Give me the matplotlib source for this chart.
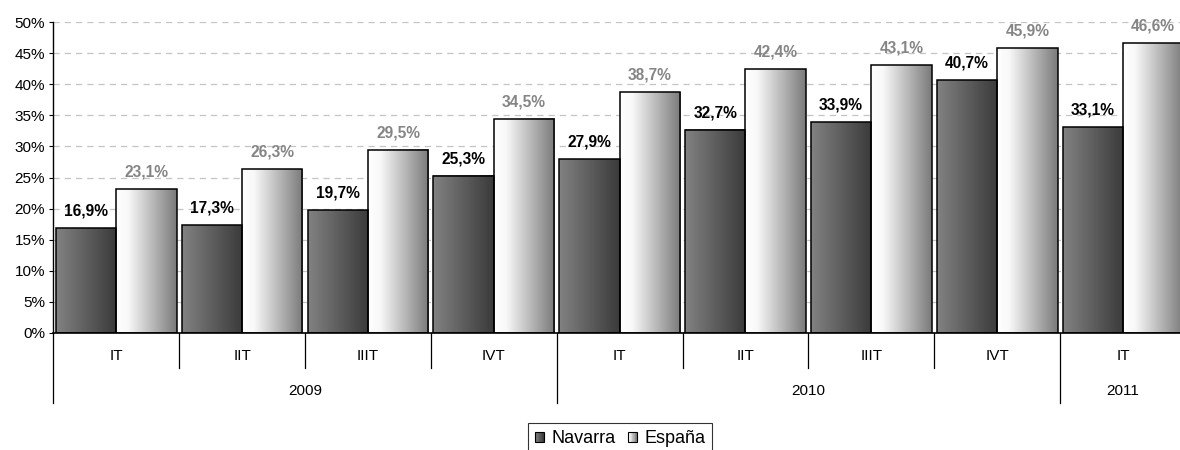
import matplotlib
matplotlib.use('Agg')
import matplotlib.pyplot as plt
import numpy as np
from matplotlib.colors import LinearSegmentedColormap
from matplotlib.patches import Rectangle
from matplotlib.legend_handler import HandlerBase

quarters = ['IT', 'IIT', 'IIIT', 'IVT', 'IT', 'IIT', 'IIIT', 'IVT', 'IT']
years = ['2009', '2009', '2009', '2009', '2010', '2010', '2010', '2010', '2011']
navarra = [16.9, 17.3, 19.7, 25.3, 27.9, 32.7, 33.9, 40.7, 33.1]
espana = [23.1, 26.3, 29.5, 34.5, 38.7, 42.4, 43.1, 45.9, 46.6]
series_names = ['Navarra', 'España']
yticks = [0, 5, 10, 15, 20, 25, 30, 35, 40, 45, 50]

plt.rcParams['font.family'] = ['Liberation Sans', 'DejaVu Sans']
fig = plt.figure(figsize=(11.8, 4.5), dpi=100)
ax = fig.add_axes([53.3 / 1180, 117.3 / 450, 9 * 125.85 / 1180, 310.4 / 450])

cmap_nav = LinearSegmentedColormap.from_list('nav', ['#828282', '#5e5e5e', '#3a3a3a'])
cmap_esp = LinearSegmentedColormap.from_list('esp', [(0, '#ffffff'), (0.2, '#f8f8f8'), (1, '#7a7a7a')])
grad = np.linspace(0, 1, 256).reshape(1, -1)

x = np.arange(len(quarters))
w = 0.48
bars_n = ax.bar(x - w, navarra, w, align='edge', facecolor='none', edgecolor='black', lw=1.1, zorder=3)
bars_e = ax.bar(x, espana, w, align='edge', facecolor='none', edgecolor='black', lw=1.1, zorder=3)

for bars, cmap, vals, col in [(bars_n, cmap_nav, navarra, 'black'), (bars_e, cmap_esp, espana, '#858585')]:
    for r, v in zip(bars, vals):
        ax.imshow(grad, cmap=cmap, extent=[r.get_x(), r.get_x() + r.get_width(), 0, r.get_height()],
                  aspect='auto', zorder=2, interpolation='bilinear')
        ax.annotate(f'{v:.1f}'.replace('.', ',') + '%',
                    xy=(r.get_x() + r.get_width() / 2, r.get_height()),
                    xytext=(0, 9), textcoords='offset points', ha='center', va='baseline',
                    fontsize=11.2, fontweight='bold', color=col, zorder=4)

ax.set_xlim(-0.5, len(quarters) - 0.5)
ax.set_ylim(0, 50)
ax.set_yticks(yticks)
ax.set_yticklabels([f'{t}%' for t in yticks], fontsize=11)
ax.set_xticks([])
ax.yaxis.grid(True, color='#c4c4c4', linestyle=(0, (5, 4)), lw=0.9)
ax.set_axisbelow(True)
for s in ['top', 'right']:
    ax.spines[s].set_visible(False)
ax.spines['left'].set_color('black')
ax.spines['bottom'].set_color('black')
ax.spines['left'].set_linewidth(1.0)
ax.spines['bottom'].set_linewidth(1.2)
ax.tick_params(axis='y', length=3, width=0.8, direction='out', pad=3, colors='black')

# category axis
trans = ax.get_xaxis_transform()
q_len = 35.5 / 310.4
y_len = 70.6 / 310.4
for i in range(len(quarters)):
    ax.text(i, -23.3 / 310.4, quarters[i], transform=trans, ha='center', va='center', fontsize=11)
for i in range(len(quarters)):
    bnd = i - 0.5
    is_year = (i == 0) or (years[i] != years[i - 1])
    ax.plot([bnd, bnd], [0, -(y_len if is_year else q_len)], transform=trans,
            color='black', lw=0.9, clip_on=False)
uniq = []
for yv in years:
    if yv not in uniq:
        uniq.append(yv)
for yv in uniq:
    idx = [i for i, v in enumerate(years) if v == yv]
    c = (idx[0] - 0.5 + idx[-1] + 0.5) / 2
    ax.text(c, -58.5 / 310.4, yv, transform=trans, ha='center', va='center', fontsize=11)


class GradHandler(HandlerBase):
    def __init__(self, cmap):
        super().__init__()
        self.cmap = cmap

    def create_artists(self, legend, orig_handle, xdescent, ydescent, width, height, fontsize, trans):
        n = 12
        arts = []
        for k in range(n):
            arts.append(Rectangle((-xdescent + k * width / n, -ydescent), width / n, height,
                                  facecolor=self.cmap((k + 0.5) / n), edgecolor='none', transform=trans))
        arts.append(Rectangle((-xdescent, -ydescent), width, height, facecolor='none',
                              edgecolor='black', lw=0.8, transform=trans))
        return arts


h1 = Rectangle((0, 0), 1, 1)
h2 = Rectangle((0, 0), 1, 1)
leg = fig.legend([h1, h2], series_names, loc='upper center', bbox_to_anchor=(620 / 1180, 1 - 423 / 450),
                 ncol=2, frameon=True, fancybox=False, edgecolor='black', fontsize=13,
                 handlelength=0.5, handleheight=0.5, handletextpad=0.4, columnspacing=0.7,
                 borderpad=0.4, borderaxespad=0,
                 handler_map={h1: GradHandler(cmap_nav), h2: GradHandler(cmap_esp)})
leg.get_frame().set_linewidth(0.8)

fig.savefig('out.png', dpi=100)
